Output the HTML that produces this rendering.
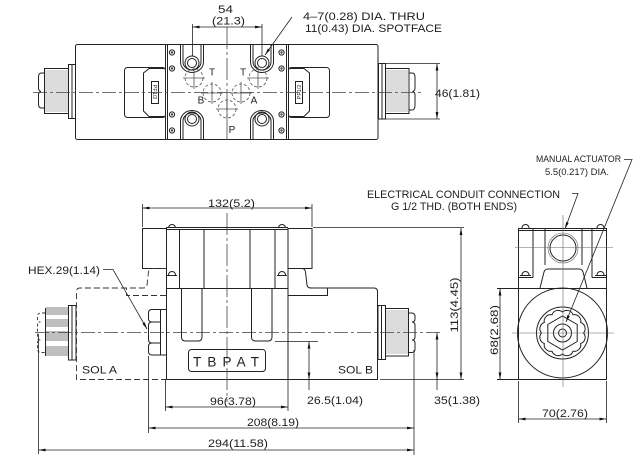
<!DOCTYPE html>
<html><head><meta charset="utf-8"><style>
html,body{margin:0;padding:0;background:#fff;}
svg{display:block}
text{font-family:"Liberation Sans",sans-serif;fill:#1e1e1e;}
</style></head><body>
<svg width="640" height="464" viewBox="0 0 640 464" xmlns="http://www.w3.org/2000/svg">
<defs>
<marker id="ar" viewBox="0 0 10 4" refX="10" refY="2" markerWidth="7" markerHeight="2.8" markerUnits="userSpaceOnUse" orient="auto-start-reverse"><path d="M0,0L10,2L0,4z" fill="#111"/></marker>
</defs>
<rect width="640" height="464" fill="#fff"/>

<!-- ================= TOP VIEW ================= -->
<g fill="none" stroke="#222" stroke-width="1">
  <rect x="75.5" y="44.5" width="302.5" height="95" rx="2"/>
  <path d="M165.5,44.5V139.5M167.5,44.5V139.5M286.5,44.5V139.5M288.5,44.5V139.5"/>
  <!-- left coil -->
  <rect x="124.5" y="67.5" width="41" height="50" rx="3"/>
  <path d="M165,68.5H149L143.5,73V111L149,116.5H165"/>
  <rect x="151.5" y="81.5" width="7" height="22"/>
  <!-- right coil -->
  <rect x="288.5" y="67.5" width="41" height="50" rx="3"/>
  <path d="M288,68.5H304L309.5,73V111L304,116.5H288"/>
  <rect x="295.5" y="81.5" width="7" height="22"/>
  <!-- left connector -->
  <rect x="68.5" y="64.5" width="7" height="54"/>
  <path d="M72,64.5V118.5"/>
  <rect x="44.5" y="68.5" width="24" height="45"/>
  <path d="M44.5,73H41.5Q38.5,73 38.5,77V88Q38.5,91 41,91.5Q38.5,92 38.5,95V104Q38.5,108 41.5,108H44.5"/>
  <!-- right connector -->
  <rect x="378.5" y="63.5" width="7" height="55.5"/>
  <path d="M382,63.5V119"/>
  <rect x="385.5" y="68.5" width="23.5" height="45"/>
  <path d="M409,73H412Q415,73 415,77V88Q415,91 412.5,91.5Q415,92 415,95V105Q415,110 412,110H409"/>
  <!-- slots top -->
  <path d="M180.5,44.5V62A11.5,10.5 0 0 0 203.5,62V44.5"/>
  <path d="M183,44.5V62A9,8 0 0 0 201,62V44.5"/>
  <path d="M250.5,44.5V62A11.5,10.5 0 0 0 273.5,62V44.5"/>
  <path d="M253,44.5V62A9,8 0 0 0 271,62V44.5"/>
  <!-- slots bottom -->
  <path d="M180.5,139.5V121A11.5,10.5 0 0 1 203.5,121V139.5"/>
  <path d="M183,139.5V121A9,8 0 0 1 201,121V139.5"/>
  <path d="M250.5,139.5V121A11.5,10.5 0 0 1 273.5,121V139.5"/>
  <path d="M253,139.5V121A9,8 0 0 1 271,121V139.5"/>
  <!-- holes -->
  <circle cx="192" cy="63" r="7"/><circle cx="192" cy="63" r="4.5"/>
  <circle cx="262" cy="63" r="7"/><circle cx="262" cy="63" r="4.5"/>
  <circle cx="192" cy="119" r="7"/><circle cx="192" cy="119" r="4.5"/>
  <circle cx="262" cy="119" r="7"/><circle cx="262" cy="119" r="4.5"/>
  <!-- screws -->
  <g>
    <circle cx="172" cy="52.5" r="2.6"/><circle cx="172" cy="68.5" r="2.6"/>
    <circle cx="172" cy="114.5" r="2.6"/><circle cx="172" cy="130.5" r="2.6"/>
    <circle cx="281.5" cy="52.5" r="2.6"/><circle cx="281.5" cy="68.5" r="2.6"/>
    <circle cx="281.5" cy="114.5" r="2.6"/><circle cx="281.5" cy="130.5" r="2.6"/>
  </g>
</g>
<g fill="#444">
  <circle cx="172" cy="52.5" r="1.2"/><circle cx="172" cy="68.5" r="1.2"/>
  <circle cx="172" cy="114.5" r="1.2"/><circle cx="172" cy="130.5" r="1.2"/>
  <circle cx="281.5" cy="52.5" r="1.2"/><circle cx="281.5" cy="68.5" r="1.2"/>
  <circle cx="281.5" cy="114.5" r="1.2"/><circle cx="281.5" cy="130.5" r="1.2"/>
</g>
<!-- knurl lines top view -->
<g stroke="#777" stroke-width="0.6">
  <path d="M45,71H68M45,73H68M45,75H68M45,77H68M45,79H68M45,81H68M45,83H68M45,85H68M45,87H68M45,89H68M45,91H68M45,93H68M45,95H68M45,97H68M45,99H68M45,101H68M45,103H68M45,105H68M45,107H68M45,109H68M45,111H68"/>
  <path d="M386,71H408M386,73H408M386,75H408M386,77H408M386,79H408M386,81H408M386,83H408M386,85H408M386,87H408M386,89H408M386,91H408M386,93H408M386,95H408M386,97H408M386,99H408M386,101H408M386,103H408M386,105H408M386,107H408M386,109H408M386,111H408"/>
</g>
<!-- port symbols -->
<g fill="none" stroke="#555" stroke-width="0.8">
  <g stroke-dasharray="3,2">
    <circle cx="194" cy="78" r="9"/><circle cx="212" cy="93" r="9"/><circle cx="227" cy="109" r="9"/>
    <circle cx="241" cy="93" r="9"/><circle cx="258" cy="78" r="9"/>
  </g>
  <path d="M183,78H205M194,67V89M201,93H223M212,82V104M216,109H238M227,98V120M230,93H252M241,82V104M247,78H269M258,67V89"/>
</g>
<!-- centerlines top -->
<g fill="none" stroke="#444" stroke-width="0.8">
  <path d="M33,92.5H421" stroke-dasharray="14,3,3,3"/>
  <path d="M227,27V140" stroke-dasharray="22,3,3,3"/>
</g>
<!-- dims top -->
<g fill="none" stroke="#222" stroke-width="0.8">
  <path d="M192.5,24V56M262,24V56"/>
  <path d="M192.5,27H262" marker-start="url(#ar)" marker-end="url(#ar)"/>
  <path d="M292,17L265,55" marker-end="url(#ar)"/>
  <path d="M386,63.5H440M386,119H440"/>
  <path d="M437,63.5V119" marker-start="url(#ar)" marker-end="url(#ar)"/>
</g>
<g font-size="10">
  <text x="212" y="75.5" text-anchor="middle">T</text>
  <text x="243" y="75.5" text-anchor="middle">T</text>
  <text x="201" y="103.5" text-anchor="middle">B</text>
  <text x="254" y="103.5" text-anchor="middle">A</text>
  <text x="232" y="133" text-anchor="middle">P</text>
</g>
<text font-size="5.5" transform="translate(153,92) rotate(90)" text-anchor="middle">PF1/2</text>
<text font-size="5.5" transform="translate(301,92) rotate(-90)" text-anchor="middle">PF1/2</text>
<g font-size="11">
  <text x="218" y="13" textLength="15" lengthAdjust="spacingAndGlyphs">54</text>
  <text x="212" y="24.5" textLength="33" lengthAdjust="spacingAndGlyphs">(21.3)</text>
  <text x="303" y="20" textLength="122" lengthAdjust="spacingAndGlyphs">4–7(0.28) DIA. THRU</text>
  <text x="305" y="32" textLength="137" lengthAdjust="spacingAndGlyphs">11(0.43) DIA. SPOTFACE</text>
  <text x="435" y="97" textLength="45" lengthAdjust="spacingAndGlyphs">46(1.81)</text>
</g>

<!-- ================= FRONT VIEW ================= -->
<g fill="none" stroke="#222" stroke-width="1">
  <rect x="142.5" y="228.5" width="24" height="40"/>
  <rect x="288" y="228.5" width="24" height="40"/>
  <path d="M166,227.5H288M166,229.5H288"/>
  <path d="M166.5,228V379.5M288,228V379.5"/>
  <path d="M166,288.5H288"/>
  <path d="M179.5,229V288M204,229V288M250,229V288M275,229V288"/>
  <!-- bolt domes -->
  <path d="M168.5,228A3.5,3.5 0 0 1 175.5,228M278.5,228A3.5,3.5 0 0 1 285.5,228"/>
  <path d="M168.5,275A3.5,3.5 0 0 1 175.5,275M278.5,275A3.5,3.5 0 0 1 285.5,275M167,275.5H177M277,275.5H287"/>
  <!-- pistons -->
  <path d="M181.5,288.5V337Q181.5,341 185.5,341H198Q202,341 202,337V288.5"/>
  <path d="M251.5,288.5V337Q251.5,341 255.5,341H268Q272,341 272,337V288.5"/>
  <!-- nameplate -->
  <rect x="188.5" y="349.5" width="77" height="22" rx="3"/>
  <!-- SOL B housing -->
  <path d="M288,268.5H302Q305,268.5 305.5,272L307,285Q307.5,288 311,288H374Q377.5,288 377.5,291.5V379.5H166"/>
  <path d="M288,295.5H327.5V288"/>
  <!-- hex nut -->
  <path d="M160.5,309.5H152Q148.5,309.5 148.5,313V318.5Q148.5,322 152,322H160.5"/>
  <path d="M152,322Q148.5,322 148.5,325.5V339.5Q148.5,343 152,343H160.5"/>
  <path d="M152,343Q148.5,343 148.5,346.5V351.5Q148.5,355 152,355H160.5"/>
  <path d="M160.5,309.5V355M160.5,309.5H166M160.5,355H166"/>
  <!-- left connector front -->
  <rect x="68.5" y="305.5" width="7.5" height="54.5"/>
  <path d="M72,305.5V360"/>
  <path d="M45.5,308V356"/>
  <!-- right connector front -->
  <rect x="378" y="305.5" width="7.5" height="54"/>
  <path d="M381.5,305.5V359.5"/>
  <rect x="385.5" y="308.5" width="23" height="47.5"/>
  <path d="M408.5,313H411.5Q415,313 415,316.5V319Q415,322 412,322Q415,322 415,325.5V337Q415,340 412,340Q415,340 415,343V349Q415,352.5 411.5,352.5H408.5"/>
</g>
<!-- dashed SOL A -->
<g fill="none" stroke="#333" stroke-width="0.9" stroke-dasharray="6,3">
  <path d="M166,268.5H152Q149,268.5 148.5,272L147,285Q146.5,288 143,288H80Q76.5,288 76.5,291.5V379.5H166"/>
  <path d="M166,295.5H126.5V288"/>
  <path d="M45,313H41Q37.5,313 37.5,316.5V319Q37.5,322 40.5,322Q37.5,322 37.5,325.5V337Q37.5,340 40.5,340Q37.5,340 37.5,343V349Q37.5,352.5 41,352.5H45" stroke-dasharray="3,2"/>
</g>
<!-- knurl front -->
<g stroke="#555" stroke-width="0.7">
  <path d="M46,308H68M46,310H68M46,312H68M46,314H68M46,320H68M46,322H68M46,324H68M46,326H68M46,332H68M46,334H68M46,336H68M46,338H68M46,340H68M46,347H68M46,349H68M46,351H68M46,353H68M46,355H68"/>
</g>
<g stroke="#777" stroke-width="0.6">
  <path d="M386,311H408M386,313H408M386,315H408M386,317H408M386,319H408M386,321H408M386,323H408M386,325H408M386,327H408M386,329H408M386,331H408M386,333H408M386,335H408M386,337H408M386,339H408M386,341H408M386,343H408M386,345H408M386,347H408M386,349H408M386,351H408M386,353H408"/>
</g>
<!-- centerlines front -->
<g fill="none" stroke="#444" stroke-width="0.8">
  <path d="M35,332.5H441" stroke-dasharray="14,3,3,3"/>
  <path d="M227,213V402" stroke-dasharray="22,3,3,3"/>
</g>
<!-- dims front -->
<g fill="none" stroke="#222" stroke-width="0.8">
  <path d="M142.5,204V227M312,204V227"/>
  <path d="M142.5,208H312" marker-start="url(#ar)" marker-end="url(#ar)"/>
  <path d="M313,227.5H464M380,379.5H464"/>
  <path d="M461,228V379.5" marker-start="url(#ar)" marker-end="url(#ar)"/>
  <path d="M165.5,380V411M288,380V411M148.5,356V433M414,350V455M38.5,334V454"/>
  <path d="M165.5,407H288" marker-start="url(#ar)" marker-end="url(#ar)"/>
  <path d="M148.5,428H414" marker-start="url(#ar)" marker-end="url(#ar)"/>
  <path d="M38.5,450H414" marker-start="url(#ar)" marker-end="url(#ar)"/>
  <path d="M275,341.5H318"/>
  <path d="M309,341.5V379.5" marker-start="url(#ar)" marker-end="url(#ar)"/>
  <path d="M309,379.5V390"/>
  <path d="M437,332.5V379.5" marker-start="url(#ar)" marker-end="url(#ar)"/>
  <path d="M437,379.5V390"/>
  <path d="M103,269.5H113L147,329" marker-end="url(#ar)"/>
</g>
<text x="193" y="366.5" font-family="'Liberation Serif',serif" font-size="13.5" textLength="66" lengthAdjust="spacing">TBPAT</text>
<g font-size="11">
  <text x="208" y="207" textLength="47" lengthAdjust="spacingAndGlyphs">132(5.2)</text>
  <text x="28" y="274" textLength="72" lengthAdjust="spacingAndGlyphs">HEX.29(1.14)</text>
  <text x="82" y="373.5" textLength="35" lengthAdjust="spacingAndGlyphs">SOL  A</text>
  <text x="338" y="373.5" textLength="35" lengthAdjust="spacingAndGlyphs">SOL  B</text>
  <text x="210" y="405" textLength="46" lengthAdjust="spacingAndGlyphs">96(3.78)</text>
  <text x="307" y="404" textLength="56" lengthAdjust="spacingAndGlyphs">26.5(1.04)</text>
  <text x="434" y="404" textLength="46" lengthAdjust="spacingAndGlyphs">35(1.38)</text>
  <text x="247" y="426" textLength="52" lengthAdjust="spacingAndGlyphs">208(8.19)</text>
  <text x="208" y="447" textLength="60" lengthAdjust="spacingAndGlyphs">294(11.58)</text>
  <text transform="translate(458,305) rotate(-90)" text-anchor="middle" textLength="55" lengthAdjust="spacingAndGlyphs">113(4.45)</text>
  <text transform="translate(498,330) rotate(-90)" text-anchor="middle" textLength="50" lengthAdjust="spacingAndGlyphs">68(2.68)</text>
  <text x="542" y="417" textLength="46" lengthAdjust="spacingAndGlyphs">70(2.76)</text>
  <text x="367" y="198" textLength="193" lengthAdjust="spacingAndGlyphs" fill="#000">ELECTRICAL CONDUIT CONNECTION</text>
  <text x="391" y="210" textLength="126" lengthAdjust="spacingAndGlyphs" fill="#000">G 1/2 THD. (BOTH ENDS)</text>
</g>
<g font-size="9.5">
  <text x="536" y="162" textLength="85" lengthAdjust="spacingAndGlyphs">MANUAL  ACTUATOR</text>
  <text x="545" y="175" textLength="64" lengthAdjust="spacingAndGlyphs">5.5(0.217)  DIA.</text>
</g>

<!-- ================= END VIEW ================= -->
<g fill="none" stroke="#222" stroke-width="1">
  <path d="M518.5,288V228.5H606.5V288"/>
  <path d="M518.5,230.5H606.5"/>
  <path d="M533,229V277.5M592,229V277.5M518.5,277.5H533M592,277.5H606.5"/>
  <path d="M545,229V265M582,229V265"/>
  <path d="M540,288L544,272Q545,269 548,269H579Q582,269 583,272L587,288"/>
  <circle cx="563" cy="248" r="13"/>
  <path d="M522,228A3.5,3.5 0 0 1 529,228M597,228A3.5,3.5 0 0 1 604,228"/>
  <path d="M522,275A3.5,3.5 0 0 1 529,275M597,275A3.5,3.5 0 0 1 604,275M520,275.5H531M595,275.5H606"/>
  <path d="M497,288.5H606.5M518.5,288V379.5M606.5,288V379.5M497,379.5H607"/>
  <circle cx="562.5" cy="333" r="45"/>
  <circle cx="562.5" cy="333" r="26"/>
  <path d="M583.5,333A6.5,6.5 0 0 1 580.69,343.5A6.5,6.5 0 0 1 573,351.19A6.5,6.5 0 0 1 562.5,354A6.5,6.5 0 0 1 552,351.19A6.5,6.5 0 0 1 544.31,343.5A6.5,6.5 0 0 1 541.5,333A6.5,6.5 0 0 1 544.31,322.5A6.5,6.5 0 0 1 552,314.81A6.5,6.5 0 0 1 562.5,312A6.5,6.5 0 0 1 573,314.81A6.5,6.5 0 0 1 580.69,322.5A6.5,6.5 0 0 1 583.5,333Z"/>
  <path d="M577.2,341.5L562.5,350L547.8,341.5V324.5L562.5,316L577.2,324.5Z"/>
  <circle cx="562.5" cy="333" r="9"/>
  <circle cx="562.5" cy="333" r="4"/>
</g>
<g fill="none" stroke="#666" stroke-width="0.6">
  <circle cx="563" cy="248" r="15"/>
  <path d="M515,247.5H613M563,215V387M512,333H614"/>
</g>
<g fill="none" stroke="#222" stroke-width="0.8">
  <path d="M500,288.5V379.5" marker-start="url(#ar)" marker-end="url(#ar)"/>
  <path d="M518.5,381V423M606.5,381V423"/>
  <path d="M518.5,419H606.5" marker-start="url(#ar)" marker-end="url(#ar)"/>
  <path d="M572,193.5H578L565,229" marker-end="url(#ar)"/>
  <path d="M624,159.5H632L566,322" marker-end="url(#ar)"/>
</g>
</svg>
</body></html>
